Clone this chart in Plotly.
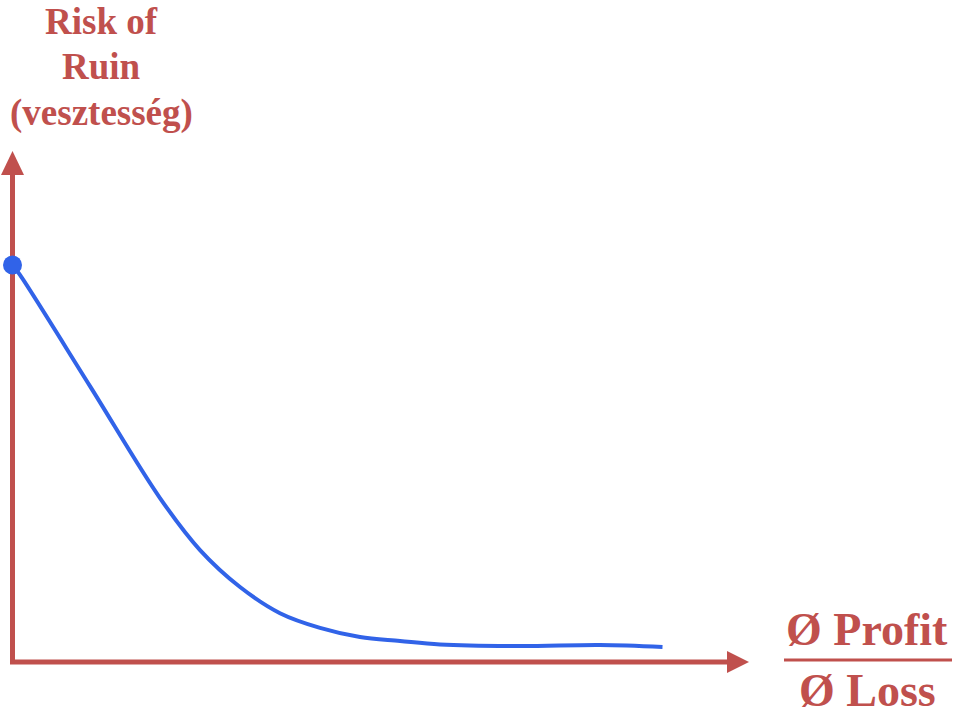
import plotly.graph_objects as go

# Risk of ruin curve (x: profit/loss ratio units, y: risk %)
ratio = [0.0, 0.115, 1.192, 2.269, 2.885, 3.5, 4.115, 4.731, 5.346, 5.962, 6.577, 7.808, 9.038, 10.0]
risk = [100.0, 97.5, 69.5, 41.3, 28.2, 18.9, 12.3, 8.6, 6.3, 5.3, 4.4, 4.0, 4.3, 3.8]

start_x = [0.0]
start_y = [100.0]

title_lines = ["Risk of", "Ruin", "(vesztesség)"]
ratio_top = "Ø Profit"
ratio_bottom = "Ø Loss"

RED = "#C0504D"
BLUE = "#3163E8"

fig = go.Figure()
fig.add_trace(go.Scatter(x=ratio, y=risk, mode="lines",
                         line=dict(color=BLUE, width=4, shape="spline", smoothing=1.0),
                         hoverinfo="skip", showlegend=False))
fig.add_trace(go.Scatter(x=start_x, y=start_y, mode="markers",
                         marker=dict(color=BLUE, size=19),
                         hoverinfo="skip", showlegend=False))

# pixel -> data helpers for decorations
PXX = 65.0
PXY = 3.97
def dx(px):
    return (px - 12.5) / PXX
def dy(py):
    return (662 - py) / PXY

# axes lines
fig.add_shape(type="line", x0=dx(12.5), x1=dx(12.5), y0=dy(664), y1=dy(172),
              line=dict(color=RED, width=5), layer="below")
fig.add_shape(type="line", x0=dx(10), x1=dx(730), y0=dy(662), y1=dy(662),
              line=dict(color=RED, width=5), layer="below")
# arrowheads
fig.add_shape(type="path",
              path=f"M {dx(1)} {dy(175)} L {dx(24)} {dy(175)} L {dx(12.5)} {dy(151)} Z",
              fillcolor=RED, line=dict(color=RED, width=0), layer="below")
fig.add_shape(type="path",
              path=f"M {dx(727)} {dy(651)} L {dx(727)} {dy(673)} L {dx(749)} {dy(662)} Z",
              fillcolor=RED, line=dict(color=RED, width=0), layer="below")
# fraction bar
fig.add_shape(type="line", x0=dx(784), x1=dx(952), y0=dy(660), y1=dy(660),
              line=dict(color=RED, width=3))

FONT = "Liberation Serif"
title_tops = [0, 45, 91]
for line, top in zip(title_lines, title_tops):
    fig.add_annotation(x=101 / 960, y=1 - top / 722, xref="paper", yref="paper",
                       text=f"<b>{line}</b>", showarrow=False,
                       xanchor="center", yanchor="top", align="center",
                       font=dict(family=FONT, size=37, color=RED), borderpad=0)
fig.add_annotation(x=867 / 960, y=1 - 656 / 722, xref="paper", yref="paper",
                   text=f"<b>{ratio_top}</b>", showarrow=False,
                   xanchor="center", yanchor="bottom",
                   font=dict(family=FONT, size=46, color=RED), borderpad=0)
fig.add_annotation(x=867 / 960, y=1 - 664 / 722, xref="paper", yref="paper",
                   text=f"<b>{ratio_bottom}</b>", showarrow=False,
                   xanchor="center", yanchor="top",
                   font=dict(family=FONT, size=46, color=RED), borderpad=0)

fig.update_layout(
    width=960, height=722,
    margin=dict(l=0, r=0, t=0, b=0),
    paper_bgcolor="white", plot_bgcolor="white",
    xaxis=dict(range=[dx(0), dx(960)], visible=False, fixedrange=True),
    yaxis=dict(range=[dy(722), dy(0)], visible=False, fixedrange=True),
    showlegend=False,
)

fig.write_html("out.html", config={"displayModeBar": False},
               post_script="document.body.style.margin='0';document.body.style.overflow='hidden';")
